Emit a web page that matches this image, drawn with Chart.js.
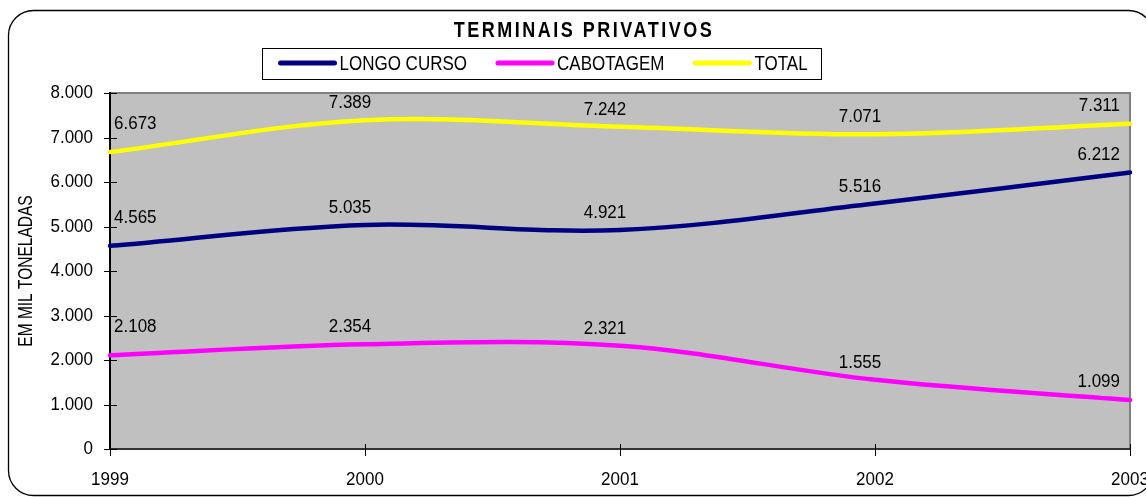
<!DOCTYPE html>
<html>
<head>
<meta charset="utf-8">
<script src="https://cdn.jsdelivr.net/npm/chart.js@4/dist/chart.umd.min.js"></script>
<style>
  html, body { margin: 0; padding: 0; background: #fff; }
  #c { display: block; }
</style>
</head>
<body>
<canvas id="c" width="1146" height="497"></canvas>
<script>
// ---- data ----
const years = ['1999', '2000', '2001', '2002', '2003'];
const longoCurso = [4565, 5035, 4921, 5516, 6212];
const cabotagem = [2108, 2354, 2321, 1555, 1099];
const total = [6673, 7389, 7242, 7071, 7311];
const seriesNames = ['LONGO CURSO', 'CABOTAGEM', 'TOTAL'];
const chartTitle = 'TERMINAIS PRIVATIVOS';
const yAxisTitle = 'EM MIL TONELADAS';
const yMin = 0, yMax = 8000, yStep = 1000;

const FONT = '"Liberation Sans", Arial, sans-serif';
const fmt = v => String(v).replace(/\B(?=(\d{3})+(?!\d))/g, '.');

// draw text with a slight vertical stretch (the source font is tall)
function txt(ctx, s, x, y, align, font, sy, rot) {
  ctx.save();
  ctx.translate(x, y);
  if (rot) ctx.rotate(rot);
  ctx.scale(1, sy);
  ctx.font = font;
  ctx.fillStyle = '#000';
  ctx.textAlign = align;
  ctx.textBaseline = 'middle';
  ctx.fillText(s, 0, 0);
  ctx.restore();
}

const decor = {
  id: 'decor',
  beforeDraw(chart) {
    const ctx = chart.ctx, a = chart.chartArea;
    ctx.save();
    ctx.fillStyle = '#fff';
    ctx.fillRect(0, 0, chart.width, chart.height);
    ctx.beginPath();
    ctx.roundRect(8.5, 10.5, 1145, 485, 25);
    ctx.strokeStyle = '#000';
    ctx.lineWidth = 1.3;
    ctx.stroke();
    ctx.fillStyle = '#C0C0C0';
    ctx.fillRect(a.left, a.top, a.right - a.left, a.bottom - a.top);
    ctx.strokeStyle = '#808080';
    ctx.lineWidth = 2;
    ctx.beginPath();
    ctx.moveTo(a.left, a.top);
    ctx.lineTo(a.right, a.top);
    ctx.lineTo(a.right, a.bottom);
    ctx.stroke();
    ctx.restore();
  },
  afterDatasetsDraw(chart) {
    const ctx = chart.ctx;
    const f = '17px ' + FONT;
    chart.data.datasets.forEach((ds, di) => {
      const meta = chart.getDatasetMeta(di);
      const n = ds.data.length;
      meta.data.forEach((pt, i) => {
        if (i === 0) txt(ctx, fmt(ds.data[i]), pt.x + 4, pt.y - 28, 'left', f, 1.1);
        else if (i === n - 1) txt(ctx, fmt(ds.data[i]), pt.x - 10, pt.y - 18, 'right', f, 1.1);
        else txt(ctx, fmt(ds.data[i]), pt.x - 15, pt.y - 17, 'center', f, 1.1);
      });
    });
  },
  afterDraw(chart) {
    const ctx = chart.ctx, a = chart.chartArea;
    const xs = chart.scales.x, ys = chart.scales.y;
    ctx.save();
    ctx.strokeStyle = '#000';
    ctx.lineWidth = 1;
    ctx.beginPath();
    ys.ticks.forEach(t => {
      const y = Math.round(ys.getPixelForValue(t.value)) + 0.5;
      ctx.moveTo(a.left - 6, y); ctx.lineTo(a.left + 7, y);
    });
    xs.ticks.forEach((t, i) => {
      const x = Math.round(xs.getPixelForTick(i)) + 0.5;
      ctx.moveTo(x, a.bottom - 5); ctx.lineTo(x, a.bottom + 7);
    });
    ctx.stroke();
    ctx.restore();

    const tf = '17px ' + FONT;
    ys.ticks.forEach(t => {
      txt(ctx, fmt(t.value), a.left - 17, ys.getPixelForValue(t.value), 'right', tf, 1.12);
    });
    xs.ticks.forEach((t, i) => {
      txt(ctx, years[i], xs.getPixelForTick(i), a.bottom + 31, 'center', tf, 1.12);
    });
    txt(ctx, yAxisTitle, 26, (a.top + a.bottom) / 2, 'center', '15.5px ' + FONT, 1.3, -Math.PI / 2);

    ctx.save();
    ctx.letterSpacing = '2.5px';
    txt(ctx, chartTitle, 584, 31, 'center', 'bold 18px ' + FONT, 1.2);
    ctx.restore();

    // legend
    ctx.save();
    const lf = '17px ' + FONT;
    ctx.font = lf;
    const lineLen = 58, gapTxt = 3, gapItem = 29, padL = 16, padR = 14;
    const widths = seriesNames.map(s => ctx.measureText(s).width);
    let totalW = padL + padR + gapItem * (seriesNames.length - 1);
    widths.forEach(w => totalW += lineLen + gapTxt + w);
    const cx = 541.5;
    const bx = Math.round(cx - totalW / 2) + 0.5, by = 48.5, bh = 31;
    ctx.strokeStyle = '#000';
    ctx.lineWidth = 1;
    ctx.strokeRect(bx, by, Math.round(totalW), bh);
    let x = bx + padL;
    const ly = by + bh / 2 - 1;
    chart.data.datasets.forEach((ds, i) => {
      ctx.strokeStyle = ds.borderColor;
      ctx.lineWidth = 5;
      ctx.lineCap = 'round';
      ctx.beginPath();
      ctx.moveTo(x + 2, ly); ctx.lineTo(x + lineLen - 2, ly);
      ctx.stroke();
      x += lineLen + gapTxt;
      txt(ctx, seriesNames[i], x, ly + 1, 'left', lf, 1.2);
      x += widths[i] + gapItem;
    });
    ctx.restore();
  }
};

new Chart(document.getElementById('c'), {
  type: 'line',
  data: {
    labels: years,
    datasets: [
      { label: seriesNames[0], data: longoCurso, borderColor: '#000080', backgroundColor: '#000080' },
      { label: seriesNames[1], data: cabotagem, borderColor: '#FF00FF', backgroundColor: '#FF00FF' },
      { label: seriesNames[2], data: total, borderColor: '#FFFF00', backgroundColor: '#FFFF00' }
    ]
  },
  options: {
    responsive: false,
    animation: false,
    devicePixelRatio: 1,
    layout: { padding: { left: 0, top: 93, right: 16, bottom: 0 } },
    elements: {
      line: { borderWidth: 4.5, tension: 0.35, fill: false, borderCapStyle: 'round' },
      point: { radius: 0, hoverRadius: 0 }
    },
    plugins: {
      legend: { display: false },
      title: { display: false },
      tooltip: { enabled: false }
    },
    scales: {
      x: {
        offset: false,
        grid: { display: false, drawTicks: false },
        border: { display: true, color: '#333333', width: 2 },
        ticks: { display: false, autoSkip: false },
        afterFit(s) { s.height = 48; s.paddingLeft = 0; s.paddingRight = 0; }
      },
      y: {
        min: yMin, max: yMax,
        grid: { display: false, drawTicks: false },
        border: { display: true, color: '#000', width: 2 },
        ticks: { display: false, stepSize: yStep },
        afterFit(s) { s.width = 110; s.paddingTop = 0; s.paddingBottom = 0; }
      }
    }
  },
  plugins: [decor]
});
</script>
</body>
</html>
